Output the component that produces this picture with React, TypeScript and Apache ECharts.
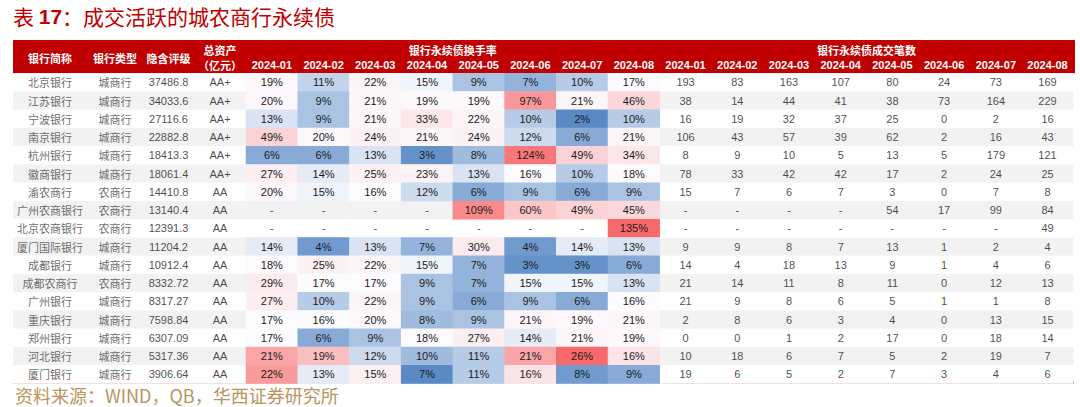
import React, { useEffect, useRef } from 'react';
import * as echarts from 'echarts';

// ---------- data ----------
const banks = ['北京银行', '江苏银行', '宁波银行', '南京银行', '杭州银行', '徽商银行', '渝农商行', '广州农商银行', '北京农商银行', '厦门国际银行', '成都银行', '成都农商行', '广州银行', '重庆银行', '郑州银行', '河北银行', '厦门银行'];
const bankTypes = ['城商行', '城商行', '城商行', '城商行', '城商行', '城商行', '农商行', '农商行', '农商行', '城商行', '城商行', '农商行', '城商行', '城商行', '城商行', '城商行', '城商行'];
const assets = ['37486.8', '34033.6', '27116.6', '22882.8', '18413.3', '18061.4', '14410.8', '13140.4', '12391.3', '11204.2', '10912.4', '8332.72', '8317.27', '7598.84', '6307.09', '5317.36', '3906.64'];
const ratings = ['AA+', 'AA+', 'AA+', 'AA+', 'AA+', 'AA+', 'AA', 'AA', 'AA', 'AA', 'AA', 'AA', 'AA', 'AA', 'AA', 'AA', 'AA'];
const months = ['2024-01', '2024-02', '2024-03', '2024-04', '2024-05', '2024-06', '2024-07', '2024-08'];
const leftHeaders = ['银行简称', '银行类型', '隐含评级', '总资产'];
const assetUnit = '（亿元）';
const groupHeaders = ['银行永续债换手率', '银行永续债成交笔数'];

// turnover rate (%), null = '-'
const turnover: (number | null)[][] = [
  [19, 11, 22, 15, 9, 7, 10, 17],
  [20, 9, 21, 19, 19, 97, 21, 46],
  [13, 9, 21, 33, 22, 10, 2, 10],
  [49, 20, 24, 21, 24, 12, 6, 21],
  [6, 6, 13, 3, 8, 124, 49, 34],
  [27, 14, 25, 23, 13, 16, 10, 18],
  [20, 15, 16, 12, 6, 9, 6, 9],
  [null, null, null, null, 109, 60, 49, 45],
  [null, null, null, null, null, null, null, 135],
  [14, 4, 13, 7, 30, 4, 14, 13],
  [18, 25, 22, 15, 7, 3, 3, 6],
  [29, 17, 17, 9, 7, 15, 15, 13],
  [27, 10, 22, 9, 6, 9, 6, 16],
  [17, 16, 20, 8, 9, 21, 19, 21],
  [17, 6, 9, 18, 27, 14, 21, 19],
  [21, 19, 12, 10, 11, 21, 26, 16],
  [22, 13, 15, 7, 11, 16, 8, 9],
];

// number of trades, null = '-'
const trades: (number | null)[][] = [
  [193, 83, 163, 107, 80, 24, 73, 169],
  [38, 14, 44, 41, 38, 73, 164, 229],
  [16, 19, 32, 37, 25, 0, 2, 16],
  [106, 43, 57, 39, 62, 2, 16, 43],
  [8, 9, 10, 5, 13, 5, 179, 121],
  [78, 33, 42, 42, 17, 2, 24, 25],
  [15, 7, 6, 7, 3, 0, 7, 8],
  [null, null, null, null, 54, 17, 99, 84],
  [null, null, null, null, null, null, null, 49],
  [9, 9, 8, 7, 13, 1, 2, 4],
  [14, 4, 18, 13, 9, 1, 4, 6],
  [21, 14, 11, 8, 11, 0, 12, 13],
  [21, 9, 8, 6, 5, 1, 1, 8],
  [2, 8, 6, 3, 4, 0, 13, 15],
  [0, 0, 1, 2, 17, 0, 18, 14],
  [10, 18, 6, 7, 5, 2, 19, 7],
  [19, 6, 5, 2, 7, 3, 4, 6],
];

// rows whose colour scale was set separately in the source table
const separateScaleBanks = ['河北银行', '厦门银行'];

// ---------- styles ----------
const SANS = '"Liberation Sans", Arial, sans-serif';
const CJK = '"Noto Sans CJK SC", sans-serif';
const RED = '#c00000';
const BLUE_C = [0x5a, 0x8a, 0xc6];
const WHITE_C = [0xfc, 0xfc, 0xff];
const RED_C = [0xf8, 0x69, 0x6b];

const TOP = 73.3;
const ROWS_H = 310.2;
const leftBounds = [13, 87, 143, 194, 246];
const MONTH_LEFT = 246;
const MONTH_W = 827.4;

function percentile(vals: number[], p: number) {
  const s = [...vals].sort((a, b) => a - b);
  const h = (s.length - 1) * p;
  const lo = Math.floor(h);
  const hi = Math.min(lo + 1, s.length - 1);
  return s[lo] + (h - lo) * (s[hi] - s[lo]);
}
function mix(a: number[], b: number[], t: number) {
  const c = a.map((v, i) => Math.round(v + (b[i] - v) * t));
  return `rgb(${c[0]},${c[1]},${c[2]})`;
}
function threeColorScale(vals: number[]) {
  const min = Math.min(...vals);
  const max = Math.max(...vals);
  const mid = percentile(vals, 0.5);
  const n = 400;
  const colors: string[] = [];
  for (let i = 0; i <= n; i++) {
    const v = min + ((max - min) * i) / n;
    if (v <= mid) colors.push(mix(BLUE_C, WHITE_C, mid === min ? 1 : (v - min) / (mid - min)));
    else colors.push(mix(WHITE_C, RED_C, (v - mid) / (max - mid)));
  }
  return { min, max, colors };
}

export default function App() {
  const ref = useRef<HTMLDivElement>(null);
  useEffect(() => {
    document.body.style.margin = '0';
    if (!ref.current) return;
    const chart = echarts.init(ref.current, undefined, { renderer: 'svg' });

    const mainData: number[][] = [];
    const sepData: number[][] = [];
    const dashData: number[][] = [];
    turnover.forEach((row, r) => {
      row.forEach((v, m) => {
        if (v == null) dashData.push([m, r]);
        else if (separateScaleBanks.includes(banks[r])) sepData.push([m, r, v]);
        else mainData.push([m, r, v]);
      });
    });
    const tradeData: number[][] = [];
    trades.forEach((row, r) => row.forEach((_, m) => tradeData.push([8 + m, r])));

    const mainScale = threeColorScale(mainData.map((d) => d[2]));
    const sepScale = threeColorScale(sepData.map((d) => d[2]));

    const leftCols = [banks, bankTypes, assets, ratings];
    const monthCats = [...months.map((m) => 'T' + m), ...months.map((m) => 'C' + m)];

    const grids = [
      ...leftCols.map((_, i) => ({ left: leftBounds[i], width: leftBounds[i + 1] - leftBounds[i], top: TOP, height: ROWS_H })),
      { left: MONTH_LEFT, width: MONTH_W, top: TOP, height: ROWS_H },
    ];

    const yAxes = grids.map((_, i) => ({
      type: 'category',
      gridIndex: i,
      data: banks,
      inverse: true,
      axisLine: { show: false },
      axisTick: { show: false },
      axisLabel: { show: false },
      splitLine: { show: false },
      splitArea: { show: true, areaStyle: { color: ['#ffffff', '#f2f2f2'] } },
    }));

    const headerLabel = {
      color: '#ffffff',
      fontWeight: 'bold',
      fontSize: 11,
      fontFamily: CJK,
      interval: 0,
    };
    const hiddenLine = { axisLine: { show: false }, axisTick: { show: false }, z: 10 };

    const xAxes: any[] = [
      ...leftHeaders.map((h, i) => ({
        type: 'category',
        gridIndex: i,
        position: 'top',
        data: [h],
        ...hiddenLine,
        axisLabel: { ...headerLabel, margin: i === 3 ? 18 : 10, lineHeight: 11 },
      })),
      {
        type: 'category',
        gridIndex: 4,
        position: 'top',
        data: monthCats,
        ...hiddenLine,
        axisLabel: {
          ...headerLabel,
          fontFamily: SANS,
          margin: 3,
          formatter: (_v: string, idx: number) => months[idx % 8],
        },
      },
      {
        type: 'category',
        gridIndex: 4,
        position: 'top',
        data: groupHeaders,
        ...hiddenLine,
        axisLabel: { ...headerLabel, margin: 18 },
      },
      {
        type: 'category',
        gridIndex: 3,
        position: 'top',
        data: [assetUnit],
        ...hiddenLine,
        axisLabel: { ...headerLabel, margin: 3, lineHeight: 11 },
      },
    ];

    const cellLabel = { show: true, color: '#1a1a1a', fontSize: 11, fontFamily: SANS };

    const series: any[] = [
      {
        type: 'heatmap',
        xAxisIndex: 4,
        yAxisIndex: 4,
        data: mainData,
        silent: true,
        label: { ...cellLabel, formatter: (p: any) => p.value[2] + '%' },
      },
      {
        type: 'heatmap',
        xAxisIndex: 4,
        yAxisIndex: 4,
        data: sepData,
        silent: true,
        label: { ...cellLabel, formatter: (p: any) => p.value[2] + '%' },
      },
      {
        type: 'scatter',
        xAxisIndex: 4,
        yAxisIndex: 4,
        symbolSize: 0,
        silent: true,
        data: dashData,
        label: { ...cellLabel, position: 'inside', formatter: () => '-' },
      },
      {
        type: 'scatter',
        xAxisIndex: 4,
        yAxisIndex: 4,
        symbolSize: 0,
        silent: true,
        data: tradeData,
        label: {
          ...cellLabel,
          position: 'inside',
          formatter: (p: any) => {
            const v = trades[p.value[1]][p.value[0] - 8];
            return v == null ? '-' : String(v);
          },
        },
      },
      ...leftCols.map((col, ci) => ({
        type: 'scatter',
        xAxisIndex: ci,
        yAxisIndex: ci,
        symbolSize: 0,
        silent: true,
        data: col.map((_, r) => [0, r]),
        label: {
          show: true,
          position: 'inside',
          fontSize: 11,
          color: ci < 2 ? '#444444' : '#1a1a1a',
          fontFamily: ci < 2 ? CJK : SANS,
          formatter: (p: any) => col[p.dataIndex],
        },
      })),
    ];

    chart.setOption({
      animation: false,
      grid: grids,
      xAxis: xAxes,
      yAxis: yAxes,
      visualMap: [
        { type: 'continuous', show: false, seriesIndex: 0, dimension: 2, min: mainScale.min, max: mainScale.max, inRange: { color: mainScale.colors } },
        { type: 'continuous', show: false, seriesIndex: 1, dimension: 2, min: sepScale.min, max: sepScale.max, inRange: { color: sepScale.colors } },
      ],
      graphic: [
        {
          type: 'rect',
          z: -1,
          shape: { x: 13, y: 40, width: 1062, height: TOP - 40 },
          style: { fill: RED },
        },
        {
          type: 'line',
          shape: { x1: 13, y1: TOP + ROWS_H - 1, x2: 1074, y2: TOP + ROWS_H - 1 },
          style: { stroke: RED, lineWidth: 1.5 },
        },
        {
          type: 'text',
          x: 13,
          y: 16,
          style: {
            text: '表 {n|17}：成交活跃的城农商行永续债',
            fill: RED,
            fontSize: 21,
            lineHeight: 24,
            fontFamily: CJK,
            verticalAlign: 'middle',
            rich: { n: { fontFamily: SANS, fontSize: 21, lineHeight: 24, fontWeight: 'bold', fill: RED } },
          },
        },
        {
          type: 'text',
          x: 15,
          y: 395,
          style: {
            text: '资料来源：WIND，QB，华西证券研究所',
            fill: '#b8955c',
            fontSize: 18,
            lineHeight: 18,
            fontFamily: CJK,
            verticalAlign: 'middle',
          },
        },
      ],
      series,
    });
    return () => chart.dispose();
  }, []);
  return <div ref={ref} style={{ width: 1080, height: 407 }} />;
}
